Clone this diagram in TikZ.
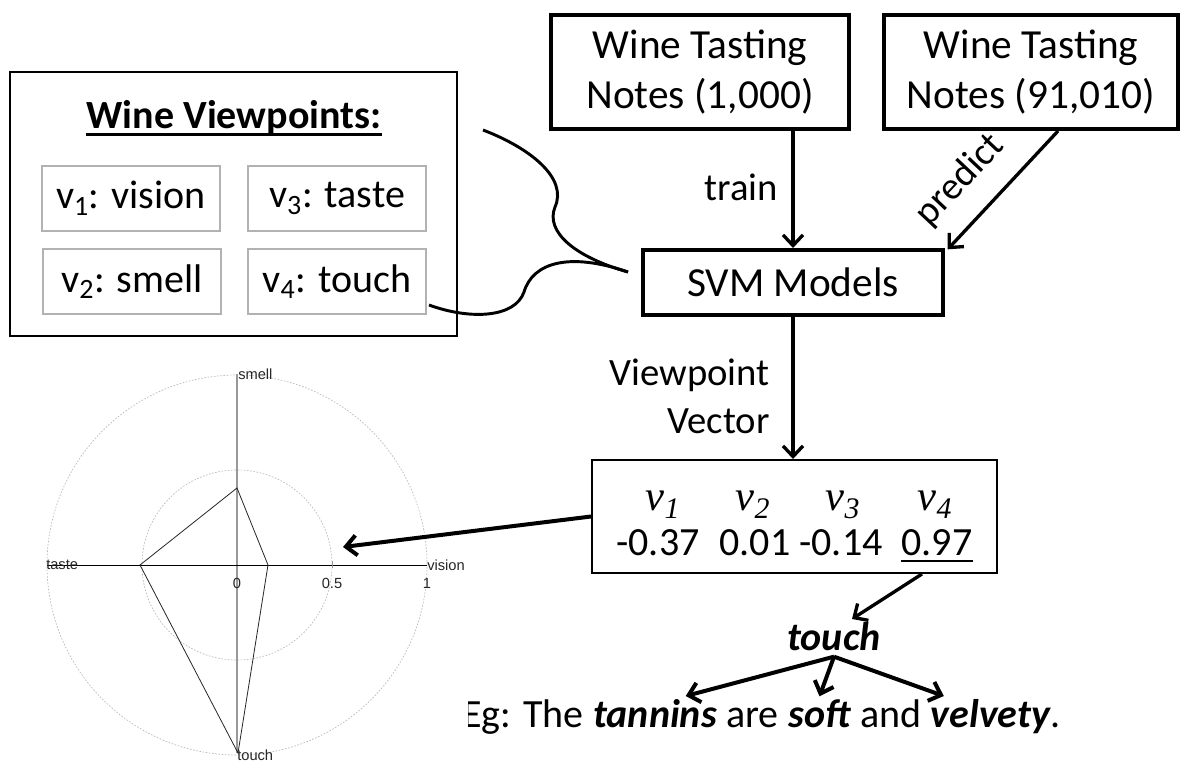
\documentclass[tikz,border=0pt]{standalone}
\usepackage{fontspec}
\setmainfont{Carlito}
\newfontfamily\radarfont{Liberation Sans}
\newfontfamily\vecfont{Liberation Serif}
\usetikzlibrary{arrows.meta}
\begin{document}
\begin{tikzpicture}[x=0.75pt,y=-0.75pt,
  bigbox/.style={draw, line width=3pt, inner sep=0pt, align=center, font=\fontsize{31}{38}\selectfont},
  vbox/.style={draw=gray!60, line width=1pt, minimum width=133.5pt, minimum height=48.75pt, inner sep=0pt, font=\fontsize{30}{36}\selectfont},
  arr/.style={line width=2.5pt, -{Straight Barb[length=8pt,width=15pt]}},
  lbl/.style={font=\fontsize{29}{36}\selectfont, inner sep=0pt},
  txt/.style={font=\fontsize{30}{36}\selectfont, inner sep=0pt},
  vlab/.style={font=\vecfont\itshape\fontsize{32}{36}\selectfont, inner sep=0pt, anchor=base},
  curve/.style={line width=2.2pt},
  rtxt/.style={font=\radarfont\fontsize{11}{12}\selectfont, text=black!85, inner sep=0pt},
]
\useasboundingbox (0,0) rectangle (1181,760);

% left viewpoints box
\node[draw, line width=1.3pt, minimum width=335.25pt, minimum height=198pt, inner sep=0pt] (vp) at (233.5,204) {};
\node[txt, font=\bfseries\fontsize{30}{36}\selectfont, anchor=base] (title) at (234,128) {Wine Viewpoints:};
\draw[line width=2pt] ([yshift=-5pt]title.base west) -- ([yshift=-5pt]title.base east);
\node[vbox] (v1) at (131,198.5) {v\textsubscript{1}: vision};
\node[vbox] (v3) at (337,198.5) {v\textsubscript{3}: taste};
\node[vbox] (v2) at (132,281.5) {v\textsubscript{2}: smell};
\node[vbox] (v4) at (337,281.5) {v\textsubscript{4}: touch};

% top boxes
\node[bigbox, minimum width=223.5pt, minimum height=85.5pt] (b1) at (700,72) {Wine Tasting\\Notes (1,000)};
\node[bigbox, minimum width=220.5pt, minimum height=85.5pt] (b2) at (1031,72) {Wine Tasting\\Notes (91,010)};
\node[bigbox, minimum width=225pt, minimum height=48.75pt] (svm) at (793,282.5) {SVM Models};

\draw[arr] (svm.north |- b1.south) -- node[lbl, left=10pt, pos=0.48] (train) {train} (svm.north);
\draw[arr] ([xshift=20.25pt]b2.south) -- ([xshift=2pt,yshift=-1pt]svm.north east);
\node[lbl, rotate=46.7] (predict) at (960,180) {predict};

% curves
\coordinate (c1s) at (483,130);
\coordinate (cm) at (628,272);
\coordinate (c2s) at (429,305);
\draw[curve] (c1s) .. controls (530,148) and (568,178) .. (555,207) .. controls (545,232) and (575,257) .. (cm);
\draw[curve] (c2s) .. controls (470,320) and (515,318) .. (524,292) .. controls (533,262) and (570,252) .. (cm);

% vector
\node[draw, line width=1.5pt, minimum width=303.75pt, minimum height=84.75pt, inner sep=0pt] (vec) at (794.5,516.5) {};
\draw[arr] (svm.south) -- (svm.south |- vec.north);
\node[lbl, align=right, anchor=east] (vv) at (770,396) {Viewpoint\\Vector};

\node[vlab] (l1) at (663,510) {v\textsubscript{1}};
\node[vlab] (l2) at (753,510) {v\textsubscript{2}};
\node[vlab] (l3) at (843,510) {v\textsubscript{3}};
\node[vlab] (l4) at (935,510) {v\textsubscript{4}};
\node[txt, anchor=base] (n1) at (658,555) {-0.37};
\node[txt, anchor=base] (n2) at (755,555) {0.01};
\node[txt, anchor=base] (n3) at (841,555) {-0.14};
\node[txt, anchor=base] (n4) at (937,555) {0.97};
\draw[line width=1.5pt] ([yshift=-4.5pt]n4.base west) -- ([yshift=-4.5pt]n4.base east);

% touch and sentence
\node[txt, font=\bfseries\itshape\fontsize{30}{36}\selectfont, anchor=base] (touch) at (834,650) {touch};
\draw[arr] ([xshift=95.6pt]vec.south) -- ([xshift=13.5pt,yshift=2pt]touch.north);
\node[txt, anchor=base west] (eg) at (462,727) {Eg: The};
\node[txt, font=\bfseries\itshape\fontsize{30}{36}\selectfont, anchor=base west] (tannins) at ([xshift=6.8pt]eg.base east) {tannins};
\node[txt, anchor=base west] (are) at ([xshift=6.8pt]tannins.base east) {are};
\node[txt, font=\bfseries\itshape\fontsize{30}{36}\selectfont, anchor=base west] (soft) at ([xshift=6.8pt]are.base east) {soft};
\node[txt, anchor=base west] (and) at ([xshift=6.8pt]soft.base east) {and};
\node[txt, font=\bfseries\itshape\fontsize{30}{36}\selectfont, anchor=base west] (velvety) at ([xshift=6.8pt]and.base east) {velvety};
\node[txt, anchor=base west] (dot) at (velvety.base east) {.};
\coordinate (br) at ([yshift=-5pt]touch.base);
\draw[arr, line width=3pt] (br) -- ([xshift=23pt,yshift=2pt]tannins.north);
\draw[arr, line width=3pt] (br) -- ([yshift=2pt]soft.north);
\draw[arr, line width=3pt] (br) -- ([xshift=-35pt,yshift=2pt]velvety.north);

% radar chart
\fill[white] (0,362) rectangle (468,760);
\draw[gray!55, line width=0.5pt, dash pattern=on 1.2pt off 1.2pt] (237,565) circle[radius=142.5pt];
\draw[gray!55, line width=0.5pt, dash pattern=on 1.2pt off 1.2pt] (237,565) circle[radius=71.25pt];
\draw[gray!80, line width=0.9pt] (237,374) -- (237,753);
\draw[black, line width=0.6pt] (47,565) -- (427,565);
\draw[gray!80, line width=0.6pt] (332,561) -- (332,568);
\draw[black!85, line width=0.6pt] (237,488) -- (268,565) -- (238,753) -- (140,565) -- cycle;
\node[rtxt, anchor=west] (smell) at (238,374) {smell};
\node[rtxt, anchor=west] (taste) at (46,565) {taste};
\node[rtxt, anchor=west] (vision) at (427,565) {vision};
\node[rtxt, anchor=west] (touchr) at (237,755) {touch};
\node[rtxt] (t0) at (237,583) {0};
\node[rtxt] (t05) at (332,583) {0.5};
\node[rtxt] (t1) at (427,583) {1};
\coordinate (rtip) at (343,547);
\draw[arr, line width=3pt] (vec.west) -- (rtip);
\end{tikzpicture}
\end{document}
